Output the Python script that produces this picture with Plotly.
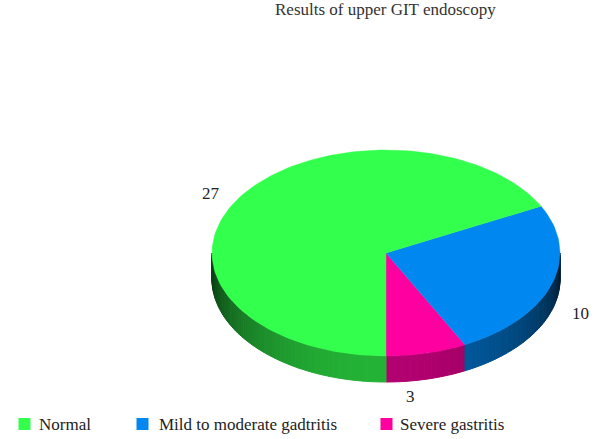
import numpy as np
import plotly.graph_objects as go

categories = ["Severe gastritis", "Mild to moderate gadtritis", "Normal"]
values = [3, 10, 27]
colors = [(255, 0, 160), (0, 136, 240), (51, 255, 77)]
title_text = "Results of upper GIT endoscopy"

CX, CY, RX, RY, DEPTH = 386, 253, 174, 103, 26
FONT = "Liberation Serif"

fig = go.Figure()


def rim(theta):
    return CX + RX * np.sin(theta), CY + RY * np.cos(theta)


def shade(rgb, f):
    return "rgb(%d,%d,%d)" % tuple(int(round(c * f)) for c in rgb)


edges = np.concatenate([[0], np.cumsum(values)]) / sum(values) * 2 * np.pi
step = np.radians(1.2)

# side wall: only the front half of the rim is visible
for rgb, a0, a1 in zip(colors, edges[:-1], edges[1:]):
    for lo, hi in [(a0, min(a1, np.pi / 2)), (max(a0, 3 * np.pi / 2), a1)]:
        if hi <= lo:
            continue
        n = max(1, int(np.ceil((hi - lo) / step)))
        ticks = np.linspace(lo, hi, n + 1)
        for t0, t1 in zip(ticks[:-1], ticks[1:]):
            arc = np.linspace(t0, t1, 3)
            x, y = rim(arc)
            xs = np.concatenate([x, x[::-1], x[:1]])
            ys = np.concatenate([y, y[::-1] + DEPTH, y[:1]])
            f = 0.2 + 0.5 * max(0.0, float(np.cos((t0 + t1) / 2)))
            col = shade(rgb, f)
            fig.add_trace(go.Scatter(x=xs, y=ys, mode="lines", fill="toself",
                                     fillcolor=col, line=dict(color=col, width=1),
                                     hoverinfo="skip", showlegend=False))

# top face
for name, val, rgb, a0, a1 in zip(categories, values, colors, edges[:-1], edges[1:]):
    arc = np.linspace(a0, a1, max(8, int((a1 - a0) / np.radians(1.5))))
    x, y = rim(arc)
    col = shade(rgb, 1)
    fig.add_trace(go.Scatter(x=np.concatenate([[CX], x, [CX]]),
                             y=np.concatenate([[CY], y, [CY]]),
                             mode="lines", fill="toself", fillcolor=col,
                             line=dict(color=col, width=0.4), name=name,
                             text=f"{name}: {val}", hoverinfo="text", showlegend=False))

# value labels
label_pos = {27: (211, 193), 10: (580, 313), 3: (410, 396)}
for v in values:
    fig.add_annotation(x=label_pos[v][0], y=label_pos[v][1], text=str(v), showarrow=False,
                       font=dict(family=FONT, size=17, color="#222"))

# legend row
legend_x = {"Normal": 24.5, "Mild to moderate gadtritis": 142.5, "Severe gastritis": 386.5}
legend_text_x = {"Normal": 37, "Mild to moderate gadtritis": 157, "Severe gastritis": 398}
for name, rgb in zip(categories, colors):
    fig.add_trace(go.Scatter(x=[legend_x[name]], y=[424], mode="markers",
                             marker=dict(symbol="square", size=12, color=shade(rgb, 1)),
                             hoverinfo="skip", showlegend=False))
    fig.add_annotation(x=legend_text_x[name], y=424, text=name, showarrow=False,
                       xanchor="left", font=dict(family=FONT, size=17, color="#222"))

fig.add_annotation(x=385, y=9, text=title_text, showarrow=False,
                   font=dict(family=FONT, size=17, color="#333"))

fig.update_layout(width=600, height=439, margin=dict(l=0, r=0, t=0, b=0),
                  paper_bgcolor="white", plot_bgcolor="white", showlegend=False,
                  xaxis=dict(range=[0, 600], visible=False, fixedrange=True),
                  yaxis=dict(range=[439, 0], visible=False, fixedrange=True))
fig.write_html("out.html", config=dict(displayModeBar=False),
               post_script="document.body.style.margin='0';document.body.style.overflow='hidden';")
